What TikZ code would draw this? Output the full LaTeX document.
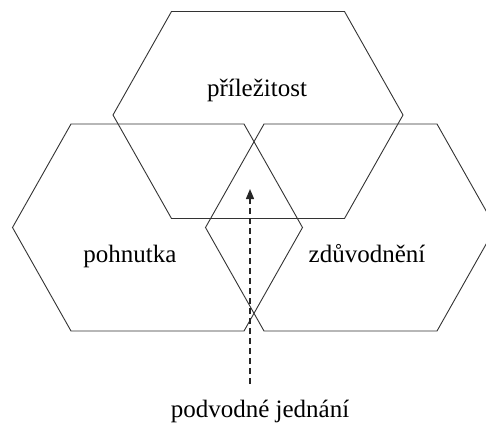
\documentclass[tikz,border=0pt]{standalone}
\usepackage{fontspec}
\setmainfont{Liberation Serif}
\usetikzlibrary{arrows.meta}
\tikzset{
  hexline/.style={draw=black!80, line width=0.9pt, line join=miter},
  lbl/.style={font=\fontsize{25}{30}\selectfont, anchor=base, inner sep=0pt},
  flow/.style={draw=black!85, line width=1.3pt, dash pattern=on 6pt off 4pt,
    -{Triangle[width=8pt,length=10pt]}}
}
% hexagon centred at (#1,#2): half width 145, top edge half 86.5, half height 103.5
\newcommand{\hexat}[2]{%
  \draw[hexline] (#1-145,#2) -- (#1-86.5,#2-103.5) -- (#1+86.5,#2-103.5)
    -- (#1+145,#2) -- (#1+86.5,#2+103.5) -- (#1-86.5,#2+103.5) -- cycle;}
\begin{document}
\begin{tikzpicture}[x=1pt,y=-1pt]
  \useasboundingbox (0,0) rectangle (486,423);
  \hexat{258}{115}
  \hexat{157.5}{227.5}
  \hexat{350.5}{227.5}
  \node[lbl] (prilezitost) at (257,96) {příležitost};
  \node[lbl] (pohnutka) at (130,262) {pohnutka};
  \node[lbl] (zduvodneni) at (367,262) {zdůvodnění};
  \node[lbl] (jednani) at (260,417) {podvodné jednání};
  \coordinate (start) at (250,384);
  \coordinate (tip) at (250,189);
  \draw[flow] (start) -- (tip);
\end{tikzpicture}
\end{document}
